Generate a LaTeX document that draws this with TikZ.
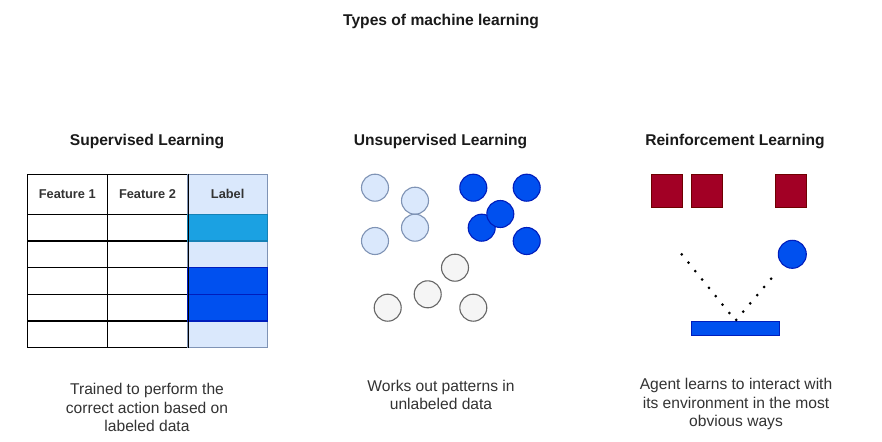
\documentclass[tikz,border=0pt]{standalone}
\usepackage{fontspec}
\setmainfont{Liberation Sans}
\definecolor{txt}{HTML}{333333}
\definecolor{ttl}{HTML}{1A1A1A}
\definecolor{lblue}{HTML}{DAE8FC}
\definecolor{lbluedraw}{HTML}{7F93B5}
\definecolor{mblue}{HTML}{1BA1E2}
\definecolor{dblue}{HTML}{0050EF}
\definecolor{dbluedraw}{HTML}{001DBC}
\definecolor{lgray}{HTML}{F5F5F5}
\definecolor{gdraw}{HTML}{666666}
\definecolor{red1}{HTML}{A20025}
\definecolor{red1draw}{HTML}{6F0000}
\tikzset{
  title/.style={font=\bfseries\fontsize{15.6}{18}\selectfont, text=ttl, inner sep=0pt, anchor=base},
  head/.style={font=\bfseries\fontsize{15.6}{18}\selectfont, text=ttl, inner sep=0pt, anchor=base},
  desc/.style={font=\fontsize{15.6}{18.5}\selectfont, text=txt, inner sep=0pt, align=center, anchor=base},
  cell/.style={draw=black, line width=1.4pt, fill=white, minimum width=80.2pt, inner sep=0pt, font=\bfseries\fontsize{12.8}{14}\selectfont, text=txt},
  lcell/.style={draw=lbluedraw, line width=1.2pt, fill=lblue, minimum width=80.2pt, inner sep=0pt, font=\bfseries\fontsize{12.8}{14}\selectfont, text=txt},
  hrow/.style={minimum height=40pt},
  drow/.style={minimum height=26.7pt},
  cl/.style={circle, draw=lbluedraw, fill=lblue, line width=1.1pt, minimum size=27pt, inner sep=0pt},
  cd/.style={circle, draw=dbluedraw, fill=dblue, line width=1.1pt, minimum size=27pt, inner sep=0pt},
  cg/.style={circle, draw=gdraw, fill=lgray, line width=1.1pt, minimum size=27pt, inner sep=0pt},
  redsq/.style={draw=red1draw, fill=red1, line width=0.6pt, minimum width=31pt, minimum height=33.7pt, inner sep=0pt},
  dots/.style={line width=3pt, line cap=round, dash pattern=on 0pt off 10.8pt, black}
}
\begin{document}
\begin{tikzpicture}[x=1pt,y=-1pt]
\useasboundingbox (0,0) rectangle (882,441);
\fill[white] (0,0) rectangle (882,441);

% title
\node[title] (t) at (441,25.7) {Types of machine learning};

% headings
\node[head] (h1) at (147,145.7) {Supervised Learning};
\node[head] (h2) at (440.5,145.7) {Unsupervised Learning};
\node[head] (h3) at (735,145.7) {Reinforcement Learning};

% table
\node[cell,hrow] (f1) at (67.3,194.3) {Feature 1};
\node[cell,hrow] (f2) at (147.5,194.3) {Feature 2};
\foreach \y [count=\i] in {227.7,254.3,281,307.7,334.3}{
  \node[cell,drow] (a\i) at (67.3,\y) {};
  \node[cell,drow] (b\i) at (147.5,\y) {};
}
\node[lcell,hrow] (lab) at (227.7,194.3) {Label};
\node[lcell,drow] (l2) at (227.7,254.3) {};
\node[lcell,drow] (l5) at (227.7,334.3) {};
\node[lcell,drow,fill=mblue,draw=mblue!80!black] (l1) at (227.7,227.7) {};
\node[lcell,drow,fill=dblue,draw=dbluedraw] (l3) at (227.7,281) {};
\node[lcell,drow,fill=dblue,draw=dbluedraw] (l4) at (227.7,307.7) {};
\draw[line width=1.4pt] (f2.north east) -- (b5.south east);

% unsupervised circles
\node[cl] (u1) at (375,187.7) {};
\node[cl] (u2) at (415,200.7) {};
\node[cl] (u3) at (415,227.7) {};
\node[cl] (u4) at (375,241) {};
\node[cd] (v1) at (473.3,187.7) {};
\node[cd] (v2) at (526.7,187.7) {};
\node[cd] (v4) at (481.7,227.7) {};
\node[cd] (v3) at (500.3,214) {};
\node[cd] (v5) at (526.7,241) {};
\node[cg] (g1) at (455,267.7) {};
\node[cg] (g2) at (427.7,294.3) {};
\node[cg] (g3) at (387.7,307.7) {};
\node[cg] (g4) at (473.3,307.7) {};

% reinforcement
\node[redsq] (r1) at (667.2,190.8) {};
\node[redsq] (r2) at (707.2,190.8) {};
\node[redsq] (r3) at (790.5,190.8) {};
\node[circle, draw=dbluedraw, fill=dblue, line width=1.1pt, minimum size=28pt, inner sep=0pt] (ball) at (792.3,254.3) {};
\node[draw=dbluedraw, fill=dblue, line width=0.8pt, minimum width=87.6pt, minimum height=14pt, inner sep=0pt] (bar) at (735.5,328) {};
\coordinate (start) at (681.7,254.3);
\draw[dots] (start) -- (bar.north) -- ([shift={(-14.5pt,-16.5pt)}]ball.center);

% descriptions (anchor=base sits on the last line)
\node[desc] (d1) at (147,431.7) {Trained to perform the\\correct action based on\\labeled data};
\node[desc] (d2) at (441,409.5) {Works out patterns in\\unlabeled data};
\node[desc] (d3) at (736,426.5) {Agent learns to interact with\\its environment in the most\\obvious ways};
\end{tikzpicture}
\end{document}
